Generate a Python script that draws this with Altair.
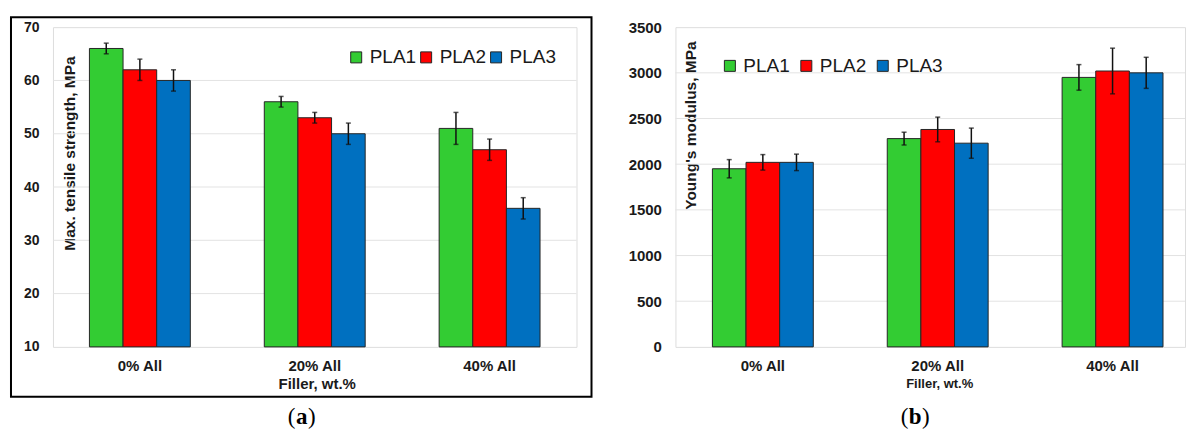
import altair as alt
import pandas as pd

# ---------------- data ----------------
categories = ["0% All", "20% All", "40% All"]
series = ["PLA1", "PLA2", "PLA3"]
colors = ["#33CC33", "#FF0000", "#0070C0"]

tensile_pla1 = [66, 56, 51]
tensile_pla2 = [62, 53, 47]
tensile_pla3 = [60, 50, 36]
tensile_err_pla1 = [1, 1, 3]
tensile_err_pla2 = [2, 1, 2]
tensile_err_pla3 = [2, 2, 2]

modulus_pla1 = [1950, 2280, 2950]
modulus_pla2 = [2020, 2380, 3020]
modulus_pla3 = [2020, 2230, 3000]
modulus_err_pla1 = [100, 70, 140]
modulus_err_pla2 = [85, 135, 250]
modulus_err_pla3 = [90, 165, 170]

tensile_ticks = [10, 20, 30, 40, 50, 60, 70]
modulus_ticks = [0, 500, 1000, 1500, 2000, 2500, 3000, 3500]

FONT = "Liberation Sans"
SERIF = "Liberation Serif"
TXT = "#1a1a1a"


def make_df(vals, errs, base):
    rows = []
    for s, v, e in zip(series, vals, errs):
        for c, vv, ee in zip(categories, v, e):
            rows.append({"cat": c, "series": s, "val": vv, "lo": vv - ee,
                         "hi": vv + ee, "base": base})
    return pd.DataFrame(rows)


def panel(df, ticks, ymin, ymax, width, height, ytitle, title_x, title_y,
          xtitle_size, pad_outer, align, legend_x, legend_y, col_pad,
          label_size, letter, letter_x, letter_w, border=False):
    xscale = alt.Scale(domain=categories, paddingInner=0.423,
                       paddingOuter=pad_outer, align=align)
    xax = alt.Axis(title="Filler, wt.%", titleFont=FONT, titleFontSize=xtitle_size,
                   titleFontWeight="bold", titleColor=TXT, titleX=264, titleY=37,
                   titleBaseline="middle", titleAlign="center",
                   labelFont=FONT, labelFontSize=15, labelFontWeight="bold",
                   labelColor=TXT, labelPadding=12, labelAngle=0,
                   domain=False, ticks=False, grid=False)
    X = alt.X("cat:N", sort=categories, scale=xscale, axis=xax)
    XO = alt.XOffset("series:N", sort=series,
                     scale=alt.Scale(domain=series, paddingInner=0, paddingOuter=0))
    yscale = alt.Scale(domain=[ymin, ymax], nice=False, zero=False)
    yax = alt.Axis(values=ticks, format="d", title=ytitle, titleFont=FONT,
                   titleFontSize=15.5, titleFontWeight="bold", titleColor=TXT,
                   titleAngle=270, titleX=title_x, titleY=title_y,
                   titleBaseline="middle", titleAlign="center", labelFont=FONT,
                   labelFontSize=label_size, labelFontWeight="bold",
                   labelColor=TXT, labelPadding=14,
                   domain=False, ticks=False, grid=False)

    grid_df = pd.DataFrame({"val": ticks[1:-1]})
    grid = alt.Chart(grid_df).mark_rule(color="#e3e3e3", strokeWidth=1).encode(
        y=alt.Y("val:Q", scale=yscale, axis=yax),
        x=alt.value(0), x2=alt.value(width))

    bars = alt.Chart(df).mark_bar(stroke="#262626", strokeWidth=1).encode(
        x=X, xOffset=XO,
        y=alt.Y("val:Q", scale=yscale, axis=yax),
        y2="base:Q",
        color=alt.Color("series:N", sort=series,
                        scale=alt.Scale(domain=series, range=colors),
                        legend=alt.Legend(orient="none", legendX=legend_x,
                                          legendY=legend_y, direction="horizontal",
                                          title=None, symbolType="square",
                                          symbolSize=121, symbolStrokeColor="#262626",
                                          symbolStrokeWidth=1, labelFont=FONT,
                                          labelFontSize=19, labelColor=TXT,
                                          columnPadding=col_pad, labelOffset=4,
                                          padding=0)))

    rules = alt.Chart(df).mark_rule(color="#111111", strokeWidth=1.5).encode(
        x=X, xOffset=XO,
        y=alt.Y("lo:Q", scale=yscale, axis=yax), y2="hi:Q")
    cap_lo = alt.Chart(df).mark_tick(color="#111111", thickness=1.5, size=5).encode(
        x=X, xOffset=XO, y=alt.Y("lo:Q", scale=yscale, axis=yax))
    cap_hi = alt.Chart(df).mark_tick(color="#111111", thickness=1.5, size=5).encode(
        x=X, xOffset=XO, y=alt.Y("hi:Q", scale=yscale, axis=yax))

    one = pd.DataFrame({"k": [0]})
    half = letter_w / 2 + 0.5
    lab_l = alt.Chart(one).mark_text(text="(", font=SERIF, fontSize=23, align="right",
                                     baseline="alphabetic", color="#000").encode(
        x=alt.value(letter_x - half), y=alt.value(397))
    lab_m = alt.Chart(one).mark_text(text=letter, font=SERIF, fontSize=23,
                                     fontWeight="bold", align="center",
                                     baseline="alphabetic", color="#000").encode(
        x=alt.value(letter_x), y=alt.value(397))
    lab_r = alt.Chart(one).mark_text(text=")", font=SERIF, fontSize=23, align="left",
                                     baseline="alphabetic", color="#000").encode(
        x=alt.value(letter_x + half), y=alt.value(397))

    layers = [grid, bars, rules, cap_lo, cap_hi, lab_l, lab_m, lab_r]
    if border:
        frame = alt.Chart(one).mark_rect(fillOpacity=0, stroke="#000000",
                                         strokeWidth=2).encode(
            x=alt.value(-42), x2=alt.value(539), y=alt.value(-10), y2=alt.value(370))
        layers.append(frame)
    return alt.layer(*layers).properties(width=width, height=height)


left = panel(make_df([tensile_pla1, tensile_pla2, tensile_pla3],
                     [tensile_err_pla1, tensile_err_pla2, tensile_err_pla3], 10),
             tensile_ticks, 10, 70, 524, 320, "Max. tensile strength, MPa",
             16.5, 126, 15, 0.2086, 0.5, 294, 20.5, 0, 14, "a", 249, 11.5,
             border=True)

right = panel(make_df([modulus_pla1, modulus_pla2, modulus_pla3],
                      [modulus_err_pla1, modulus_err_pla2, modulus_err_pla3], 0),
              modulus_ticks, 0, 3500, 510, 320, "Young's modulus, MPa",
              15, 98, 13, 0.1686, 0.627, 45, 29, 6.5, 15, "b", 240, 12.8)

chart = alt.hconcat(left, right, spacing=99, bounds="flush").resolve_scale(
    color="independent", y="independent", x="independent"
).properties(
    padding={"left": 9, "top": 15, "right": 0, "bottom": 0}
).configure_view(stroke="#858585", strokeWidth=1.5).configure(background="white")

chart.save("out.html", embed_options={"renderer": "svg", "actions": False})
